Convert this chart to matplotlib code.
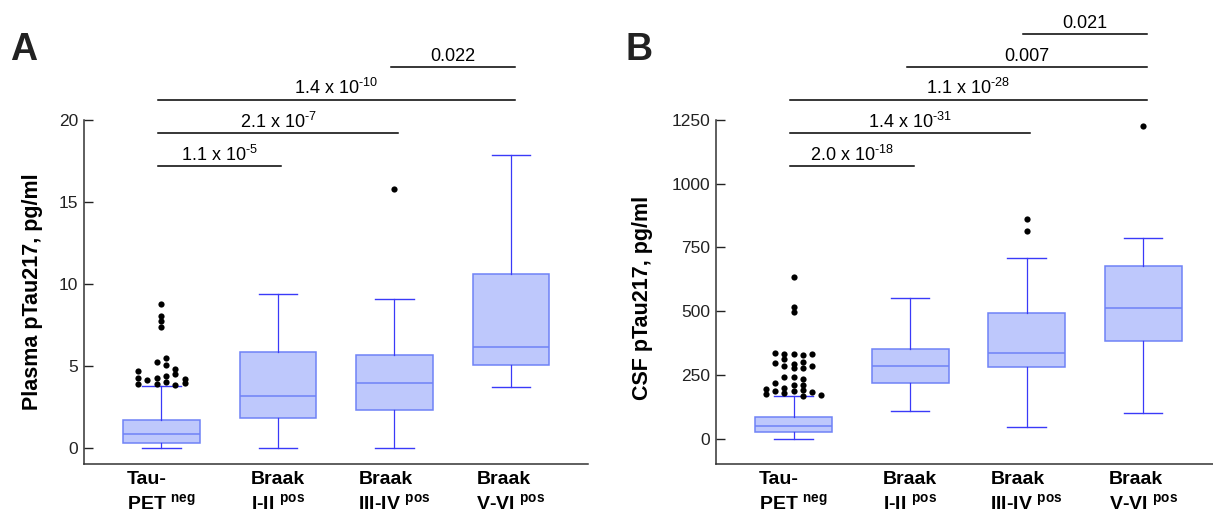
import matplotlib
matplotlib.use("Agg")
import matplotlib.pyplot as plt

plt.rcParams["font.family"] = ["Liberation Sans", "DejaVu Sans"]
plt.rcParams["mathtext.fontset"] = "custom"
plt.rcParams["mathtext.rm"] = "Liberation Sans"
plt.rcParams["mathtext.bf"] = "Liberation Sans:bold"
plt.rcParams["mathtext.it"] = "Liberation Sans:italic"

# ---- data ----
groups = ["Tau-\nPET $^{\\mathbf{neg}}$", "Braak\nI-II $^{\\mathbf{pos}}$",
          "Braak\nIII-IV $^{\\mathbf{pos}}$", "Braak\nV-VI $^{\\mathbf{pos}}$"]

plasma_q1 = [0.27, 1.81, 2.32, 5.02]
plasma_med = [0.82, 3.13, 3.96, 6.12]
plasma_q3 = [1.68, 5.82, 5.63, 10.59]
plasma_lo = [0.0, 0.0, 0.0, 3.68]
plasma_hi = [3.75, 9.35, 9.08, 17.85]
# outliers: group index (1-based), horizontal jitter, value
plasma_out_grp = [1] * 20 + [3]
plasma_out_dx = [0, 0, 0, 0, -0.04, 0.04, 0.04, -0.2, -0.2, -0.2, -0.12,
                 -0.04, -0.04, 0.04, 0.04, 0.12, 0.12, 0.12, 0.2, 0.2, 0]
plasma_out_val = [8.77, 8.06, 7.71, 7.39, 5.25, 5.46, 5.05, 4.68, 4.27, 3.87,
                  4.11, 4.24, 3.87, 4.38, 4.03, 4.82, 4.52, 3.83, 4.21, 3.93,
                  15.77]
plasma_pairs = [(1, 2), (1, 3), (1, 4), (3, 4)]
plasma_p = ["1.1 x 10$^{\\text{-5}}$", "2.1 x 10$^{\\text{-7}}$",
            "1.4 x 10$^{\\text{-10}}$", "0.022"]

csf_q1 = [26, 219, 280, 383]
csf_med = [48, 284, 335, 512]
csf_q3 = [84, 352, 491, 678]
csf_lo = [0, 110, 47, 102]
csf_hi = [166, 551, 708, 788]
csf_out_grp = [1] * 32 + [3, 3, 4]
csf_out_dx = [0, 0, 0,
              -0.16, -0.08, 0, 0.08, 0.16,
              -0.16, -0.08, -0.08, 0, 0, 0.08, 0.08, 0.16,
              -0.08, 0, -0.16, 0, 0.08, 0.08,
              -0.24, -0.24, -0.16, -0.08, -0.08, 0, 0.08, 0.08, 0.16, 0.24,
              0, 0, 0]
csf_out_val = [633, 516, 495,
               335, 332, 331, 328, 331,
               297, 313, 284, 293, 277, 302, 275, 285,
               241, 243, 216, 211, 233, 211,
               194, 173, 186, 198, 177, 187, 190, 168, 182, 172,
               862, 814, 1227]
csf_pairs = [(1, 2), (1, 3), (1, 4), (2, 4), (3, 4)]
csf_p = ["2.0 x 10$^{\\text{-18}}$", "1.4 x 10$^{\\text{-31}}$",
         "1.1 x 10$^{\\text{-28}}$", "0.007", "0.021"]

FACE = "#bec8fc"
EDGE = "#6f82f6"
WHISK = "#3a3af8"


def panel(ax, q1, med, q3, lo, hi, out_grp, out_dx, out_val,
          pairs, pvals, ylim, yticks, ylabel, label_xy):
    stats = []
    for i in range(len(q1)):
        stats.append(dict(q1=q1[i], med=med[i], q3=q3[i],
                          whislo=lo[i], whishi=hi[i], fliers=[]))
    pos = list(range(1, len(stats) + 1))
    ax.bxp(stats, positions=pos, widths=0.66, capwidths=0.33,
           patch_artist=True, showfliers=False,
           boxprops=dict(facecolor=FACE, edgecolor=EDGE, linewidth=1.1),
           medianprops=dict(color=EDGE, linewidth=1.1),
           whiskerprops=dict(color=WHISK, linewidth=0.9),
           capprops=dict(color=WHISK, linewidth=1.0))
    xs = [out_grp[k] + out_dx[k] for k in range(len(out_grp))]
    ax.scatter(xs, out_val, s=20, color="black", zorder=3, linewidths=0)

    ax.set_xlim(0.335, 4.66)
    ax.set_ylim(*ylim)
    ax.set_yticks(yticks)
    ax.set_xticks(pos)
    ax.set_xticklabels(groups, fontsize=14, fontweight="bold",
                       multialignment="left", linespacing=1.3)
    ax.tick_params(axis="x", length=0, pad=5)
    ax.tick_params(axis="y", direction="in", length=6.7, width=1.0,
                   labelsize=12.5, pad=4, colors="#222222")
    for s in ["top", "right"]:
        ax.spines[s].set_visible(False)
    for s in ["left", "bottom"]:
        ax.spines[s].set_color("#333333")
        ax.spines[s].set_linewidth(1.1)

    ax.set_ylabel(ylabel, fontsize=15.5, fontweight="bold")
    ax.yaxis.set_label_coords(*label_xy)

    # significance brackets above the plot
    tr = ax.get_xaxis_transform()
    for k, ((a, b), txt) in enumerate(zip(pairs, pvals)):
        y = 0.866 + 0.096 * k
        ax.plot([a - 0.03, b + 0.03], [y, y], color="black", lw=1.1,
                transform=tr, clip_on=False)
        ax.annotate(txt, xy=((a + b) / 2, y), xycoords=tr,
                    xytext=(0, 4), textcoords="offset points",
                    ha="center", va="baseline", fontsize=13,
                    annotation_clip=False)


fig = plt.figure(figsize=(12.13, 5.15), dpi=100)
axA = fig.add_axes([0.0692, 0.099, 0.4155, 0.668])
axB = fig.add_axes([0.5903, 0.099, 0.4155, 0.668])

panel(axA, plasma_q1, plasma_med, plasma_q3, plasma_lo, plasma_hi,
      plasma_out_grp, plasma_out_dx, plasma_out_val,
      plasma_pairs, plasma_p, (-1, 20), [0, 5, 10, 15, 20],
      "Plasma pTau217, pg/ml", (-0.081, 0.5))
panel(axB, csf_q1, csf_med, csf_q3, csf_lo, csf_hi,
      csf_out_grp, csf_out_dx, csf_out_val,
      csf_pairs, csf_p, (-100, 1250), [0, 250, 500, 750, 1000, 1250],
      "CSF pTau217, pg/ml", (-0.1255, 0.484))

fig.text(10 / 1213, 1 - 60 / 515, "A", fontsize=27, fontweight="bold",
         va="baseline", ha="left", color="#222222")
fig.text(626 / 1213, 1 - 60 / 515, "B", fontsize=27, fontweight="bold",
         va="baseline", ha="left", color="#222222")

fig.savefig("out.png", dpi=100)
